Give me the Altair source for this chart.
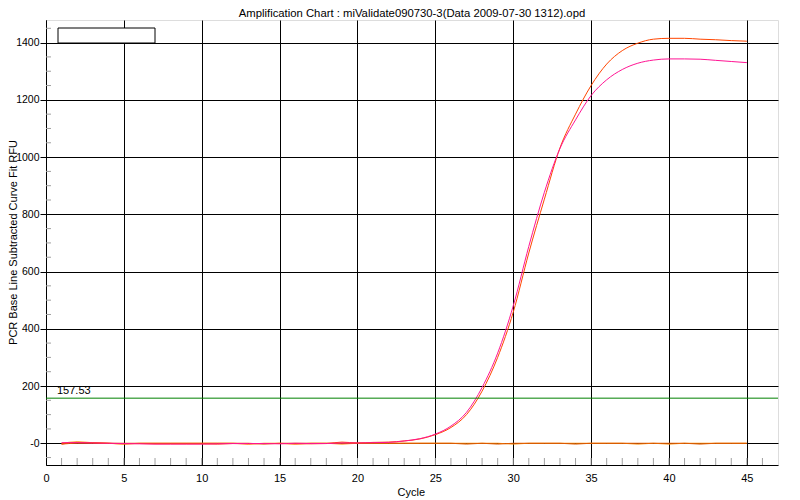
import altair as alt
import pandas as pd

# ---------------- data ----------------
cycles = list(range(1, 46))

well_a = [-3, 3, 2, 0, -2, -1, -2, -2, -2, -2, -3, -1, -2, -1, -1, -2, -2, -1, 4, 1,
          3, 4, 8, 15, 30, 55, 100, 182, 300, 458, 665, 853, 1032, 1150, 1250, 1325, 1372, 1398, 1412, 1415,
          1415, 1412, 1410, 1407, 1405]
well_b = [2, 2, 1, 0, -1, -2, -3, -3, -3, -3, -2, -1, -1, -1, -2, 0, -1, -1, 1, 1,
          2, 3, 8, 16, 32, 60, 108, 195, 315, 480, 688, 877, 1030, 1130, 1215, 1270, 1306, 1328, 1339, 1343,
          1343, 1342, 1338, 1334, 1330]
base_a = [0, 5, 2, 0, -3, 0, 0, 0, 0, 0, 0, 0, -3, 0, 0, -3, 0, 0, -3, 0,
          0, 0, 0, 0, 0, 0, 0, 0, 0, -3, 0, 0, 0, 0, 0, 0, 0, -3, 0, -3,
          0, 0, 0, 0, 0]
base_b = [-3, 0, 0, 0, 0, 0, 0, 0, 0, 0, 0, 0, 0, -3, 0, 0, 0, 0, 0, 0,
          0, 0, 0, 0, 0, 0, -3, 0, -3, 0, 0, 0, 0, -3, 0, 0, 0, 0, 0, 0,
          0, -3, 0, 0, 0]

series_names = ["Base A", "Base B", "Well A", "Well B"]
series_colors = ["#FF8C00", "#E05A00", "#FF4500", "#FF1493"]
series_values = [base_a, base_b, well_a, well_b]

threshold = [157.53]
x_ticks = [0, 5, 10, 15, 20, 25, 30, 35, 40, 45]
y_ticks = [0, 200, 400, 600, 800, 1000, 1200, 1400]
x_minor = list(range(1, 47))
y_minor = [-50, 50, 100, 150, 250, 300, 350, 450, 500, 550, 650, 700, 750, 850, 900, 950,
           1050, 1100, 1150, 1250, 1300, 1350, 1450]

title = "Amplification Chart : miValidate090730-3(Data 2009-07-30 1312).opd"
x_title = "Cycle"
y_title = "PCR Base Line Subtracted Curve Fit RFU"

# ---------------- build ----------------
rows = []
for name, vals in zip(series_names, series_values):
    for c, v in zip(cycles, vals):
        rows.append({"series": name, "cycle": c, "rfu": v})
df = pd.DataFrame(rows)

FONT = "Liberation Sans"
W, H = 732, 445
xscale = alt.Scale(domain=[0, 47], nice=False, zero=False)
yscale = alt.Scale(domain=[-76, 1479], nice=False, zero=False)

xaxis = alt.Axis(values=x_ticks, grid=True, gridColor="black", gridOpacity=1, gridWidth=1,
                 domainColor="black", tickSize=0, labelPadding=7, labelFont=FONT,
                 labelFontSize=11, labelColor="black", title=x_title, titleFont=FONT,
                 titleFontSize=11, titleFontWeight="normal", titleColor="black", titlePadding=3,
                 titleX=351, titleAnchor="start", labelFlush=False)
yaxis = alt.Axis(values=y_ticks, grid=True, gridColor="black", gridOpacity=1, gridWidth=1,
                 domainColor="black", tickColor="black", tickSize=6, labelPadding=1,
                 labelFont=FONT, labelFontSize=10.5, labelColor="black", format="d",
                 labelExpr="datum.value == 0 ? '-0' : datum.label",
                 title=y_title, titleFont=FONT, titleFontSize=11, titleFontWeight="normal",
                 titleColor="black", titleX=-30, titleY=222, titleAlign="center",
                 titleAngle=270, titleBaseline="alphabetic", labelFlush=False)

lines = alt.Chart(df).mark_line(strokeWidth=1, interpolate="monotone").encode(
    x=alt.X("cycle:Q", scale=xscale, axis=xaxis),
    y=alt.Y("rfu:Q", scale=yscale, axis=yaxis),
    color=alt.Color("series:N", scale=alt.Scale(domain=series_names, range=series_colors), legend=None),
    detail="series:N",
)

thr_df = pd.DataFrame({"t": threshold, "label": [f"{threshold[0]:.2f}"]})
thr_line = alt.Chart(thr_df).mark_rule(color="#008000", strokeWidth=1).encode(
    y=alt.Y("t:Q", scale=yscale), x=alt.value(0), x2=alt.value(W))
thr_text = alt.Chart(thr_df).mark_text(align="left", baseline="bottom", font=FONT, fontSize=11,
                                       color="black", dx=0, dy=-2).encode(
    y=alt.Y("t:Q", scale=yscale), x=alt.value(11), text="label:N")

xm = alt.Chart(pd.DataFrame({"c": x_minor})).mark_rule(color="#a0a0a0", strokeWidth=1).encode(
    x=alt.X("c:Q", scale=xscale), y=alt.value(H - 7), y2=alt.value(H))
ym = alt.Chart(pd.DataFrame({"v": y_minor})).mark_rule(color="#a0a0a0", strokeWidth=1).encode(
    y=alt.Y("v:Q", scale=yscale), x=alt.value(0), x2=alt.value(5))

legend_box = alt.Chart(pd.DataFrame({"k": [0]})).mark_rect(fill="white", stroke="black",
                                                          strokeWidth=1).encode(
    x=alt.value(12), x2=alt.value(109), y=alt.value(8), y2=alt.value(23))

chart = alt.layer(xm, ym, lines, thr_line, thr_text, legend_box).properties(
    width=W, height=H,
    autosize=alt.AutoSizeParams(type="none"),
    padding={"left": 38, "top": 12, "right": 14, "bottom": 35},
    title=alt.TitleParams(title, font=FONT, fontSize=11.3, fontWeight="normal", color="black",
                          anchor="middle", offset=1),
).configure_view(stroke="black", strokeWidth=1).configure(background="white")

chart.save("out.html", embed_options={"renderer": "svg", "actions": False})
